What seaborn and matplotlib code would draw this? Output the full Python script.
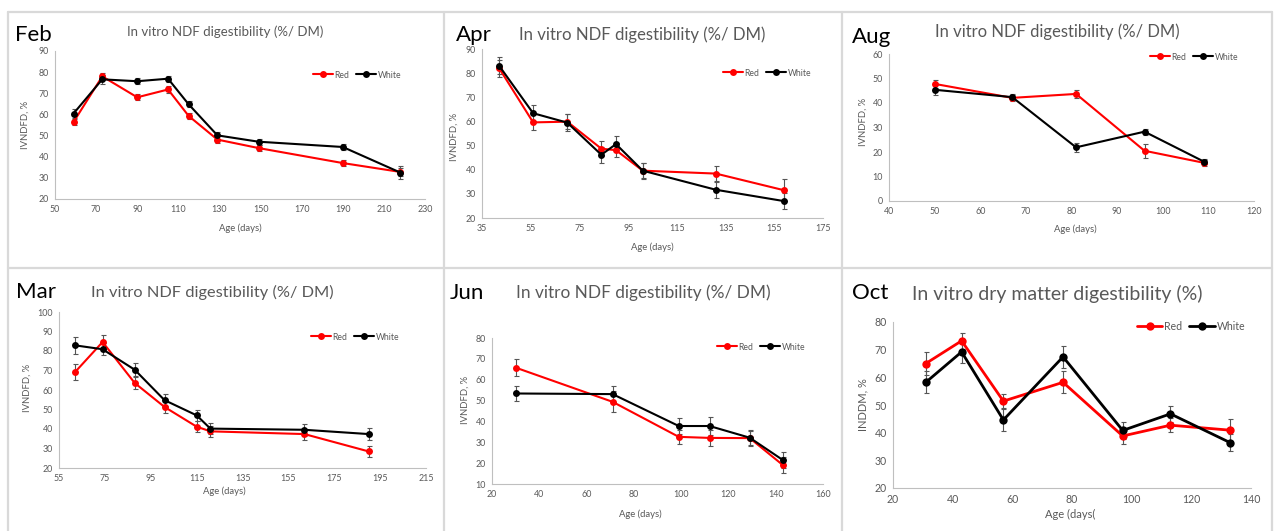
import numpy as np
import pandas as pd
import matplotlib
matplotlib.use("Agg")
import matplotlib.pyplot as plt
from matplotlib.lines import Line2D
import seaborn as sns

# ---- data -------------------------------------------------------------
feb_age = [59, 73, 90, 105, 115, 129, 149, 190, 218]
feb_red = [56.4, 78.0, 68.1, 71.8, 59.3, 48.1, 44.1, 37.0, 32.8]
feb_white = [60.4, 76.6, 75.7, 76.9, 64.8, 50.1, 47.1, 44.6, 32.5]
feb_red_err = [1.5, 1.8, 1.5, 1.5, 1.5, 1.5, 1.5, 1.5, 2.0]
feb_white_err = [2.0, 2.0, 1.5, 1.5, 1.5, 1.5, 1.5, 1.5, 3.0]

apr_age = [42, 56, 70, 84, 90, 101, 131, 159]
apr_red = [82.1, 59.6, 59.9, 48.7, 48.1, 39.6, 38.4, 31.5]
apr_white = [83.1, 63.4, 59.5, 46.2, 50.6, 39.6, 31.7, 27.0]
apr_red_err = [3.5, 3.3, 3.0, 3.0, 3.0, 3.0, 3.0, 4.5]
apr_white_err = [3.5, 3.3, 3.5, 3.3, 3.3, 3.3, 3.3, 3.3]

aug_age = [50, 67, 81, 96, 109]
aug_red = [47.8, 42.1, 43.7, 20.5, 15.6]
aug_white = [45.4, 42.4, 21.9, 28.3, 16.1]
aug_red_err = [1.5, 1.2, 1.5, 2.8, 1.2]
aug_white_err = [2.0, 1.2, 1.8, 1.2, 1.2]

mar_age = [62, 74, 88, 101, 115, 121, 162, 190]
mar_red = [69.2, 84.6, 63.6, 51.3, 41.2, 38.8, 37.4, 28.5]
mar_white = [82.9, 80.9, 70.4, 54.8, 47.0, 40.2, 39.6, 37.4]
mar_red_err = [4.2, 3.5, 3.0, 3.0, 2.8, 2.8, 2.8, 3.0]
mar_white_err = [4.2, 3.2, 3.2, 3.0, 3.0, 3.0, 3.0, 3.0]

jun_age = [30, 71, 99, 112, 129, 143]
jun_red = [65.8, 49.4, 32.6, 32.1, 32.0, 19.1]
jun_white = [53.4, 53.1, 37.8, 37.8, 32.2, 21.5]
jun_red_err = [4.2, 5.0, 3.5, 3.8, 3.5, 4.0]
jun_white_err = [3.8, 3.8, 3.8, 4.2, 3.8, 3.8]

oct_age = [31, 43, 57, 77, 97, 113, 133]
oct_red = [65.0, 73.2, 51.4, 58.2, 38.8, 42.7, 40.9]
oct_white = [58.2, 69.2, 44.6, 67.4, 40.8, 46.8, 36.4]
oct_red_err = [4.0, 3.0, 2.5, 4.0, 2.8, 2.5, 4.0]
oct_white_err = [4.0, 4.0, 4.0, 4.0, 3.0, 3.0, 3.0]

ndf_title = "In vitro NDF digestibility (%/ DM)"
dm_title = "In vitro dry matter digestibility (%)"

W, H = 1277, 531
sns.set_theme(style="white")
plt.rcParams["font.family"] = ["Lato", "DejaVu Sans"]

fig = plt.figure(figsize=(W / 100, H / 100), dpi=100)
fig.patch.set_facecolor("white")

# panel frames (light grey grid)
grid_col = "#d9d9d9"
for x in [8, 444, 842, 1272]:
    fig.add_artist(Line2D([x / W, x / W], [1 - 12 / H, 0], color=grid_col, lw=1.6))
for y in [12, 268]:
    fig.add_artist(Line2D([8 / W, 1272 / W], [1 - y / H, 1 - y / H], color=grid_col, lw=1.6))

TICK = "#595959"
AXIS = "#bfbfbf"
COLORS = {"Red": "#ff0000", "White": "#000000"}

panels = [
    dict(month="Feb", title=ndf_title, age=feb_age, red=feb_red, white=feb_white,
         rerr=feb_red_err, werr=feb_white_err, box=(55, 51, 425, 199),
         xlim=(50, 230), xstep=20, ylim=(20, 90), ystep=10, ylabel="IVNDFD, %",
         xlabel="Age (days)", mpos=(15, 35), tpos=(225, 32), tsize=9.5,
         ylpos=(25, 125), xlpos=(240, 228), leg=(357, 75), fs=6.2, lw=1.5, ms=5.0, big=False),
    dict(month="Apr", title=ndf_title, age=apr_age, red=apr_red, white=apr_white,
         rerr=apr_red_err, werr=apr_white_err, box=(482, 49, 823, 218),
         xlim=(35, 175), xstep=20, ylim=(20, 90), ystep=10, ylabel="IVNDFD, %",
         xlabel="Age (days)", mpos=(456, 35), tpos=(642, 35), tsize=12.1,
         ylpos=(454, 137), xlpos=(652, 247), leg=(767, 73), fs=6.2, lw=1.5, ms=5.0, big=False),
    dict(month="Aug", title=ndf_title, age=aug_age, red=aug_red, white=aug_white,
         rerr=aug_red_err, werr=aug_white_err, box=(889, 54, 1254, 201),
         xlim=(40, 120), xstep=10, ylim=(0, 60), ystep=10, ylabel="IVNDFD, %",
         xlabel="Age (days)", mpos=(852, 37), tpos=(1057, 32), tsize=12.0,
         ylpos=(863, 122), xlpos=(1075, 229), leg=(1194, 57), fs=6.2, lw=1.5, ms=5.0, big=False),
    dict(month="Mar", title=ndf_title, age=mar_age, red=mar_red, white=mar_white,
         rerr=mar_red_err, werr=mar_white_err, box=(59, 312, 426, 468),
         xlim=(55, 215), xstep=20, ylim=(20, 100), ystep=10, ylabel="IVNDFD, %",
         xlabel="Age (days)", mpos=(16, 292), tpos=(212, 292), tsize=11.8,
         ylpos=(27, 388), xlpos=(224, 491), leg=(355, 337), fs=6.2, lw=1.5, ms=5.0, big=False),
    dict(month="Jun", title=ndf_title, age=jun_age, red=jun_red, white=jun_white,
         rerr=jun_red_err, werr=jun_white_err, box=(492, 338, 823, 484),
         xlim=(20, 160), xstep=20, ylim=(10, 80), ystep=10, ylabel="IVNDFD, %",
         xlabel="Age (days)", mpos=(450, 293), tpos=(643, 293), tsize=12.4,
         ylpos=(465, 400), xlpos=(640, 514), leg=(761, 347), fs=6.2, lw=1.5, ms=5.0, big=False),
    dict(month="Oct", title=dm_title, age=oct_age, red=oct_red, white=oct_white,
         rerr=oct_red_err, werr=oct_white_err, box=(893, 322, 1251, 488),
         xlim=(20, 140), xstep=20, ylim=(20, 80), ystep=10, ylabel="INDDM, %",
         xlabel="Age (days(", mpos=(852, 293), tpos=(1057, 294), tsize=14.0,
         ylpos=(863, 405), xlpos=(1070, 514), leg=(1191, 326), fs=7.6, lw=2.0, ms=6.0, big=True),
]


def fx(px):
    return px / W


def fy(py):
    return 1 - py / H


for p in panels:
    x0, y0, x1, y1 = p["box"]
    ax = fig.add_axes([fx(x0), fy(y1), (x1 - x0) / W, (y1 - y0) / H])
    ax.set_facecolor("none")

    df = pd.DataFrame({
        "Age": p["age"] * 2,
        "Value": p["red"] + p["white"],
        "Err": p["rerr"] + p["werr"],
        "Series": ["Red"] * len(p["age"]) + ["White"] * len(p["age"]),
    })

    for name, sub in df.groupby("Series"):
        ax.errorbar(sub["Age"], sub["Value"], yerr=sub["Err"], fmt="none",
                    ecolor="#555555", elinewidth=0.8, capsize=1.8, capthick=0.8, zorder=2)

    sns.lineplot(data=df, x="Age", y="Value", hue="Series", palette=COLORS,
                 marker="o", markersize=p["ms"], markeredgewidth=0, linewidth=p["lw"],
                 sort=False, estimator=None, legend=False, ax=ax, zorder=3)

    ax.set_xlim(*p["xlim"])
    ax.set_ylim(*p["ylim"])
    ax.set_xticks(np.arange(p["xlim"][0], p["xlim"][1] + 1, p["xstep"]))
    ax.set_yticks(np.arange(p["ylim"][0], p["ylim"][1] + 1, p["ystep"]))
    tfs = 7.6 if p["big"] else 6.4
    ax.tick_params(axis="both", labelsize=tfs, labelcolor=TICK, color=AXIS,
                   length=2.5, width=0.7, direction="out", pad=2)
    for s in ["top", "right"]:
        ax.spines[s].set_visible(False)
    for s in ["left", "bottom"]:
        ax.spines[s].set_color(AXIS)
        ax.spines[s].set_linewidth(0.8)
    ax.grid(False)
    ax.set_xlabel("")
    ax.set_ylabel("")

    lfs = 8.0 if p["big"] else 6.8
    fig.text(fx(p["xlpos"][0]), fy(p["xlpos"][1]), p["xlabel"], ha="center", va="center",
             fontsize=lfs, color=TICK)
    fig.text(fx(p["ylpos"][0]), fy(p["ylpos"][1]), p["ylabel"], ha="center", va="center",
             rotation=90, fontsize=lfs, color=TICK)
    fig.text(fx(p["mpos"][0]), fy(p["mpos"][1]), p["month"], ha="left", va="center",
             fontsize=16, color="black")
    fig.text(fx(p["tpos"][0]), fy(p["tpos"][1]), p["title"], ha="center", va="center",
             fontsize=p["tsize"], color=TICK)

    handles = [Line2D([], [], color=COLORS[k], marker="o", markersize=p["ms"],
                      markeredgewidth=0, lw=p["lw"]) for k in ["Red", "White"]]
    lx = (p["leg"][0] - x0) / (x1 - x0)
    ly = (y1 - p["leg"][1]) / (y1 - y0)
    leg = ax.legend(handles, ["Red", "White"], loc="center", bbox_to_anchor=(lx, ly),
                    ncol=2, frameon=False, fontsize=p["fs"], handlelength=2.4,
                    handletextpad=0.15, columnspacing=0.7, borderpad=0, borderaxespad=0)
    for t in leg.get_texts():
        t.set_color(TICK)

fig.savefig("out.png", dpi=100, facecolor="white")
